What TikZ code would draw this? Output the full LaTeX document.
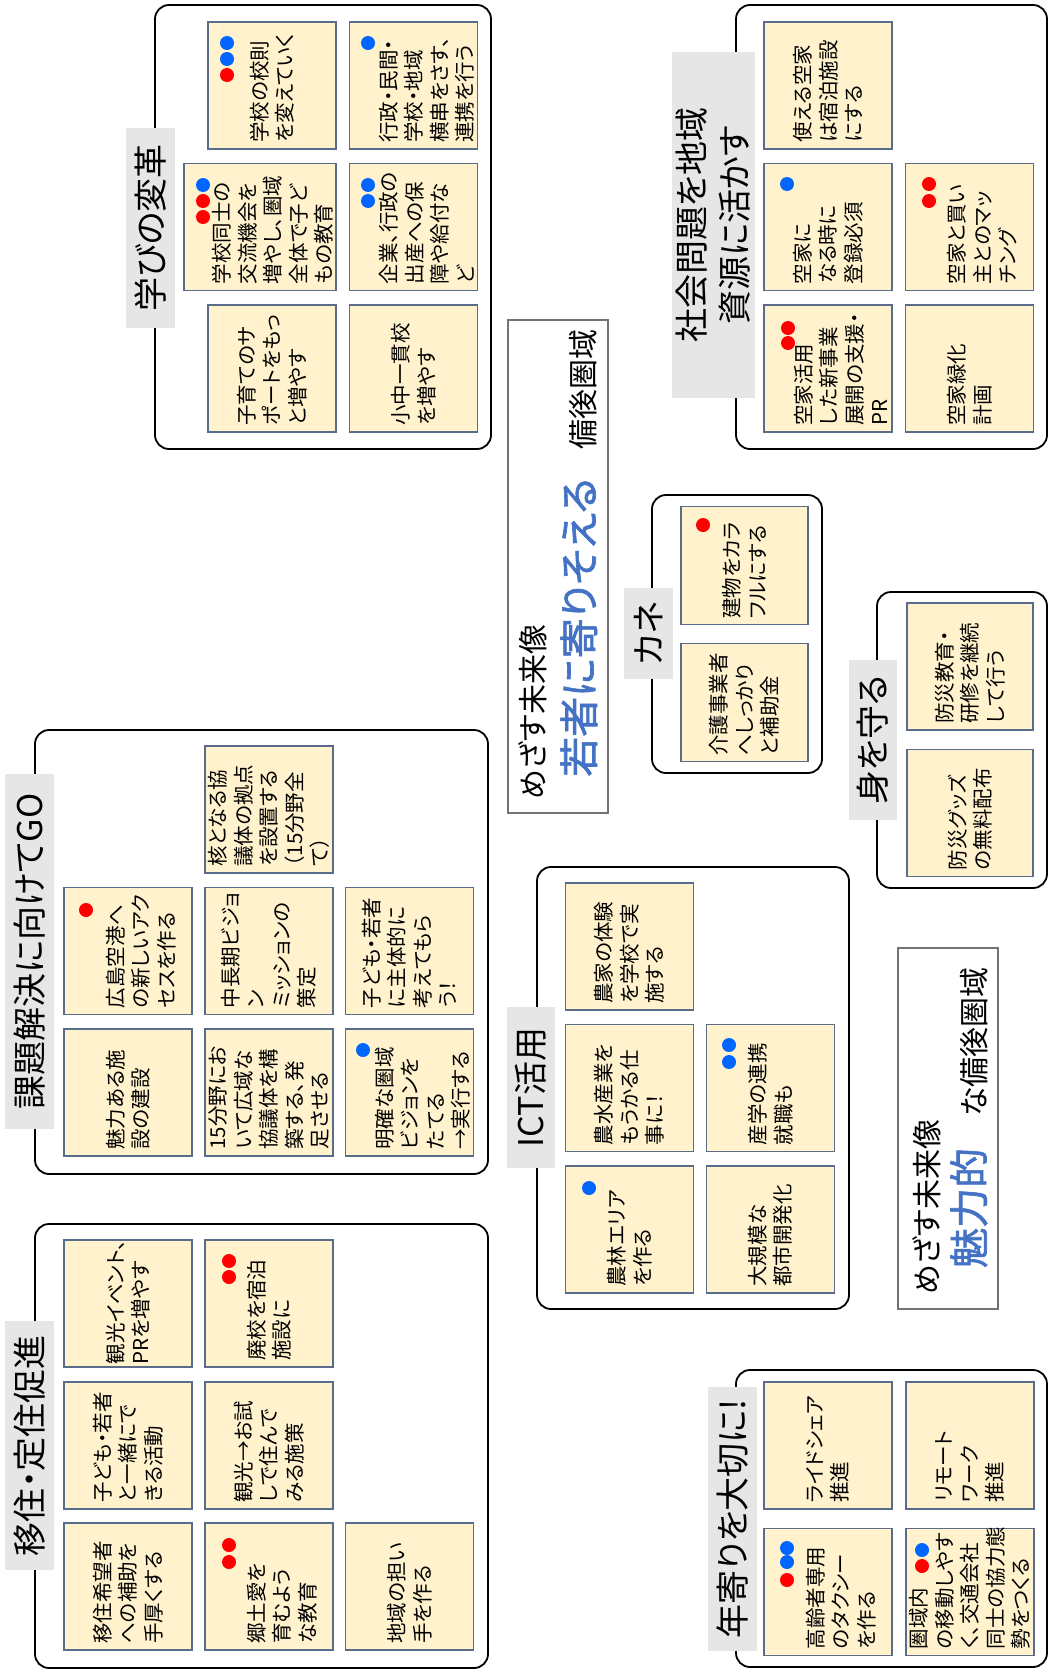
\documentclass[tikz,border=0pt]{standalone}
\usepackage{fontspec}
\setmainfont{Noto Sans CJK JP}[RawFeature=+palt]
\newfontfamily\visbigfam{Noto Sans CJK JP}[RawFeature=+palt, FakeBold=1.6]
\usepackage{tikz}
\usepackage{xcolor}
\definecolor{notefill}{RGB}{255,242,204}
\definecolor{noteedge}{RGB}{90,108,140}
\definecolor{titlegray}{RGB}{231,230,230}
\definecolor{visblue}{RGB}{68,114,196}
\definecolor{dotred}{RGB}{255,0,0}
\definecolor{dotblue}{RGB}{0,102,255}
\newcommand{\stickyfont}{\fontsize{20.5}{25.5}\selectfont}
\newcommand{\titlefont}{\fontsize{34}{43}\selectfont}
\newcommand{\visfont}{\fontsize{30}{36}\selectfont}
\newcommand{\visbigfont}{\visbigfam\fontsize{40}{46}\selectfont}
\tikzstyle{frame} = [rectangle, draw=black, line width=1.8pt, rounded corners=14pt, fill=white]
\tikzstyle{titlebox} = [rectangle, fill=titlegray, rotate=90, inner sep=0pt, align=center, font=\titlefont]
\tikzstyle{sticky} = [rectangle, draw=noteedge, line width=1.1pt, fill=notefill, rotate=90, minimum width=127pt, minimum height=128pt, inner sep=0pt, text width=114pt, align=left, font=\stickyfont]
\tikzstyle{visbox} = [rectangle, draw=black!55, line width=1.1pt, fill=white]
\tikzstyle{vistext} = [rotate=90, anchor=base west, inner sep=0pt, font=\visfont]
\tikzstyle{visbig} = [rotate=90, anchor=base west, inner sep=0pt, text=visblue, font=\visbigfont]

\begin{document}
\begin{tikzpicture}[x=1pt, y=-1pt]
    \fill[white] (0,0) rectangle (1050,1670);
    \useasboundingbox (0,0) rectangle (1050,1670);

    % Learning reform group
    \node (gakubi) [frame, minimum width=336pt, minimum height=444pt] at (323,227) {};
    \node (gakubiT) [titlebox, minimum width=200pt, minimum height=49pt] at (150.5,228) {学びの変革};
    \node (kousoku) [sticky] at (272,85.5) {学校の校則\\を変えていく};
    \node (yokogushi) [sticky] at (413.5,85.5) {\strut\\行政・民間・\\学校・地域\\横串をさす、\\連携を行う};
    \node (kouryu) [sticky, minimum height=152pt] at (260,227) {\strut\\学校同士の\\交流機会を\\増やし、圏域\\全体で子ど\\もの教育};
    \node (hosho) [sticky] at (413.5,227) {\strut\\企業、行政の\\出産への保\\障や給付な\\ど};
    \node (kosodate) [sticky] at (272,368.5) {子育てのサ\\ポートをもっ\\と増やす};
    \node (ikkan) [sticky] at (413.5,368.5) {小中一貫校\\を増やす};

    % Social issues group
    \node (shakai) [frame, minimum width=311pt, minimum height=444pt] at (891.5,227) {};
    \node (shakaiT) [titlebox, minimum width=346pt, minimum height=83pt] at (713.5,225) {社会問題を地域\\資源に活かす};
    \node (shukuhaku) [sticky] at (828,85.5) {使える空家\\は宿泊施設\\にする};
    \node (touroku) [sticky] at (828,227) {空家に\\なる時に\\登録必須};
    \node (matching) [sticky] at (969.5,227) {\strut\\空家と買い\\主とのマッ\\チング};
    \node (jigyou) [sticky] at (828,368.5) {\strut\\空家活用\\した新事業\\展開の支援・\\PR};
    \node (ryokuka) [sticky] at (969.5,368.5) {空家緑化\\計画};

    % Vision box (young people)
    \node (vis1) [visbox, minimum width=100pt, minimum height=493pt] at (558,566.5) {};
    \node (vis1a) [vistext] at (544,800) {めざす未来像};
    \node (vis1b) [visbig] at (594,777) {若者に寄りそえる};
    \node (vis1c) [vistext] at (594,450) {備後圏域};

    % Money group
    \node (kane) [frame, minimum width=170pt, minimum height=278pt] at (737,634) {};
    \node (kaneT) [titlebox, minimum width=91pt, minimum height=49pt] at (648.5,633.5) {カネ};
    \node (colorful) [sticky, minimum width=118pt, text width=106pt, minimum height=127pt] at (744.5,565.5) {建物をカラ\\フルにする};
    \node (kaigo) [sticky, minimum width=118pt, text width=106pt, minimum height=127pt] at (744.5,702.5) {介護事業者\\へしっかり\\と補助金};

    % Self protection group
    \node (mamoru) [frame, minimum width=170pt, minimum height=296pt] at (962,740) {};
    \node (mamoruT) [titlebox, minimum width=160pt, minimum height=48pt] at (873,740) {身を守る};
    \node (bousai) [sticky, minimum height=126pt] at (970,666.5) {防災教育・\\研修を継続\\して行う};
    \node (goods) [sticky, minimum height=126pt] at (970,813) {防災グッズ\\の無料配布};

    % Problem solving group
    \node (kadai) [frame, minimum width=453pt, minimum height=444pt] at (261.5,952) {};
    \node (kadaiT) [titlebox, minimum width=355pt, minimum height=49pt] at (29.5,951.5) {課題解決に向けてGO};
    \node (kyogi) [sticky] at (269,809.5) {核となる協\\議体の拠点\\を設置する\\（15分野全\\て）};
    \node (kuko) [sticky] at (128,951) {\strut\\広島空港へ\\の新しいアク\\セスを作る};
    \node (chouki) [sticky] at (269,951) {中長期ビジョ\\ン\\ミッションの\\策定};
    \node (shutai) [sticky] at (409.5,951) {子ども・若者\\に主体的に\\考えてもら\\う！};
    \node (shisetsu) [sticky] at (128,1092.5) {魅力ある施\\設の建設};
    \node (kouiki) [sticky] at (269,1092.5) {15分野にお\\いて広域な\\協議体を構\\築する、発\\足させる};
    \node (vision) [sticky] at (409.5,1092.5) {\strut\\明確な圏域\\ビジョンを\\たてる\\→実行する};

    % Migration group
    \node (iju) [frame, minimum width=453pt, minimum height=444pt] at (261.5,1446) {};
    \node (ijuT) [titlebox, minimum width=249pt, minimum height=49pt] at (29.5,1445.5) {移住・定住促進};
    \node (kanko) [sticky, text width=121pt] at (128,1303.5) {観光イベント、\\PRを増やす};
    \node (haikou) [sticky] at (269,1303.5) {廃校を宿泊\\施設に};
    \node (issho) [sticky] at (128,1445.5) {子ども・若者\\と一緒にで\\きる活動};
    \node (otameshi) [sticky] at (269,1445.5) {観光→お試\\しで住んで\\みる施策};
    \node (hojo) [sticky] at (128,1586.5) {移住希望者\\への補助を\\手厚くする};
    \node (kyodo) [sticky] at (269,1586.5) {\strut\\郷土愛を\\育むよう\\な教育};
    \node (ninaite) [sticky] at (409.5,1586.5) {地域の担い\\手を作る};

    % ICT group
    \node (ict) [frame, minimum width=312pt, minimum height=442pt] at (693,1088) {};
    \node (ictT) [titlebox, minimum width=161pt, minimum height=48pt] at (531,1087.5) {ICT活用};
    \node (nouka) [sticky] at (629.5,946.5) {農家の体験\\を学校で実\\施する};
    \node (suisan) [sticky] at (629.5,1088) {農水産業を\\もうかる仕\\事に！};
    \node (sangaku) [sticky] at (770.5,1088) {産学の連携\\就職も};
    \node (nourin) [sticky] at (629.5,1229.5) {農林エリア\\を作る};
    \node (toshi) [sticky] at (770.5,1229.5) {大規模な\\都市開発化};

    % Vision box (attractive)
    \node (vis2) [visbox, minimum width=100pt, minimum height=361pt] at (948,1128.5) {};
    \node (vis2a) [vistext] at (938,1295) {めざす未来像};
    \node (vis2b) [visbig] at (984,1268) {魅力的};
    \node (vis2c) [vistext] at (985,1117) {な備後圏域};

    % Elderly group
    \node (toshiyori) [frame, minimum width=311pt, minimum height=297pt] at (891.5,1518.5) {};
    \node (toshiyoriT) [titlebox, minimum width=264pt, minimum height=49pt] at (732.5,1519) {年寄りを大切に!};
    \node (rideshare) [sticky] at (828,1445.5) {ライドシェア\\推進};
    \node (remote) [sticky] at (970,1445.5) {リモート\\ワーク\\推進};
    \node (taxi) [sticky] at (828,1592) {\strut\\高齢者専用\\のタクシー\\を作る};
    \node (koutsu) [sticky] at (970,1592) {圏域内\\の移動しやす\\く、交通会社\\同士の協力態\\勢をつくる};

    % Dots
    \fill[dotblue] (227,43) circle (7pt) (227,59) circle (7pt) (368,43) circle (7pt);
    \fill[dotred] (227,75) circle (7pt);
    \fill[dotblue] (203,185) circle (7pt) (368,185) circle (7pt) (368,201) circle (7pt);
    \fill[dotred] (203,201) circle (7pt) (203,217) circle (7pt);
    \fill[dotblue] (787,184) circle (7pt);
    \fill[dotred] (929,184) circle (7pt) (929,201) circle (7pt) (788,328) circle (7pt) (788,343) circle (7pt);
    \fill[dotred] (703,525) circle (7pt) (86,910) circle (7pt);
    \fill[dotblue] (363,1050) circle (7pt) (729,1045) circle (7pt) (729,1062) circle (7pt) (589,1188) circle (7pt);
    \fill[dotred] (229,1261) circle (7pt) (229,1277) circle (7pt) (229,1545) circle (7pt) (229,1562) circle (7pt);
    \fill[dotblue] (787,1548) circle (7pt) (787,1562) circle (7pt) (922,1550) circle (7pt);
    \fill[dotred] (787,1580) circle (7pt) (922,1566) circle (7pt);
\end{tikzpicture}
\end{document}
